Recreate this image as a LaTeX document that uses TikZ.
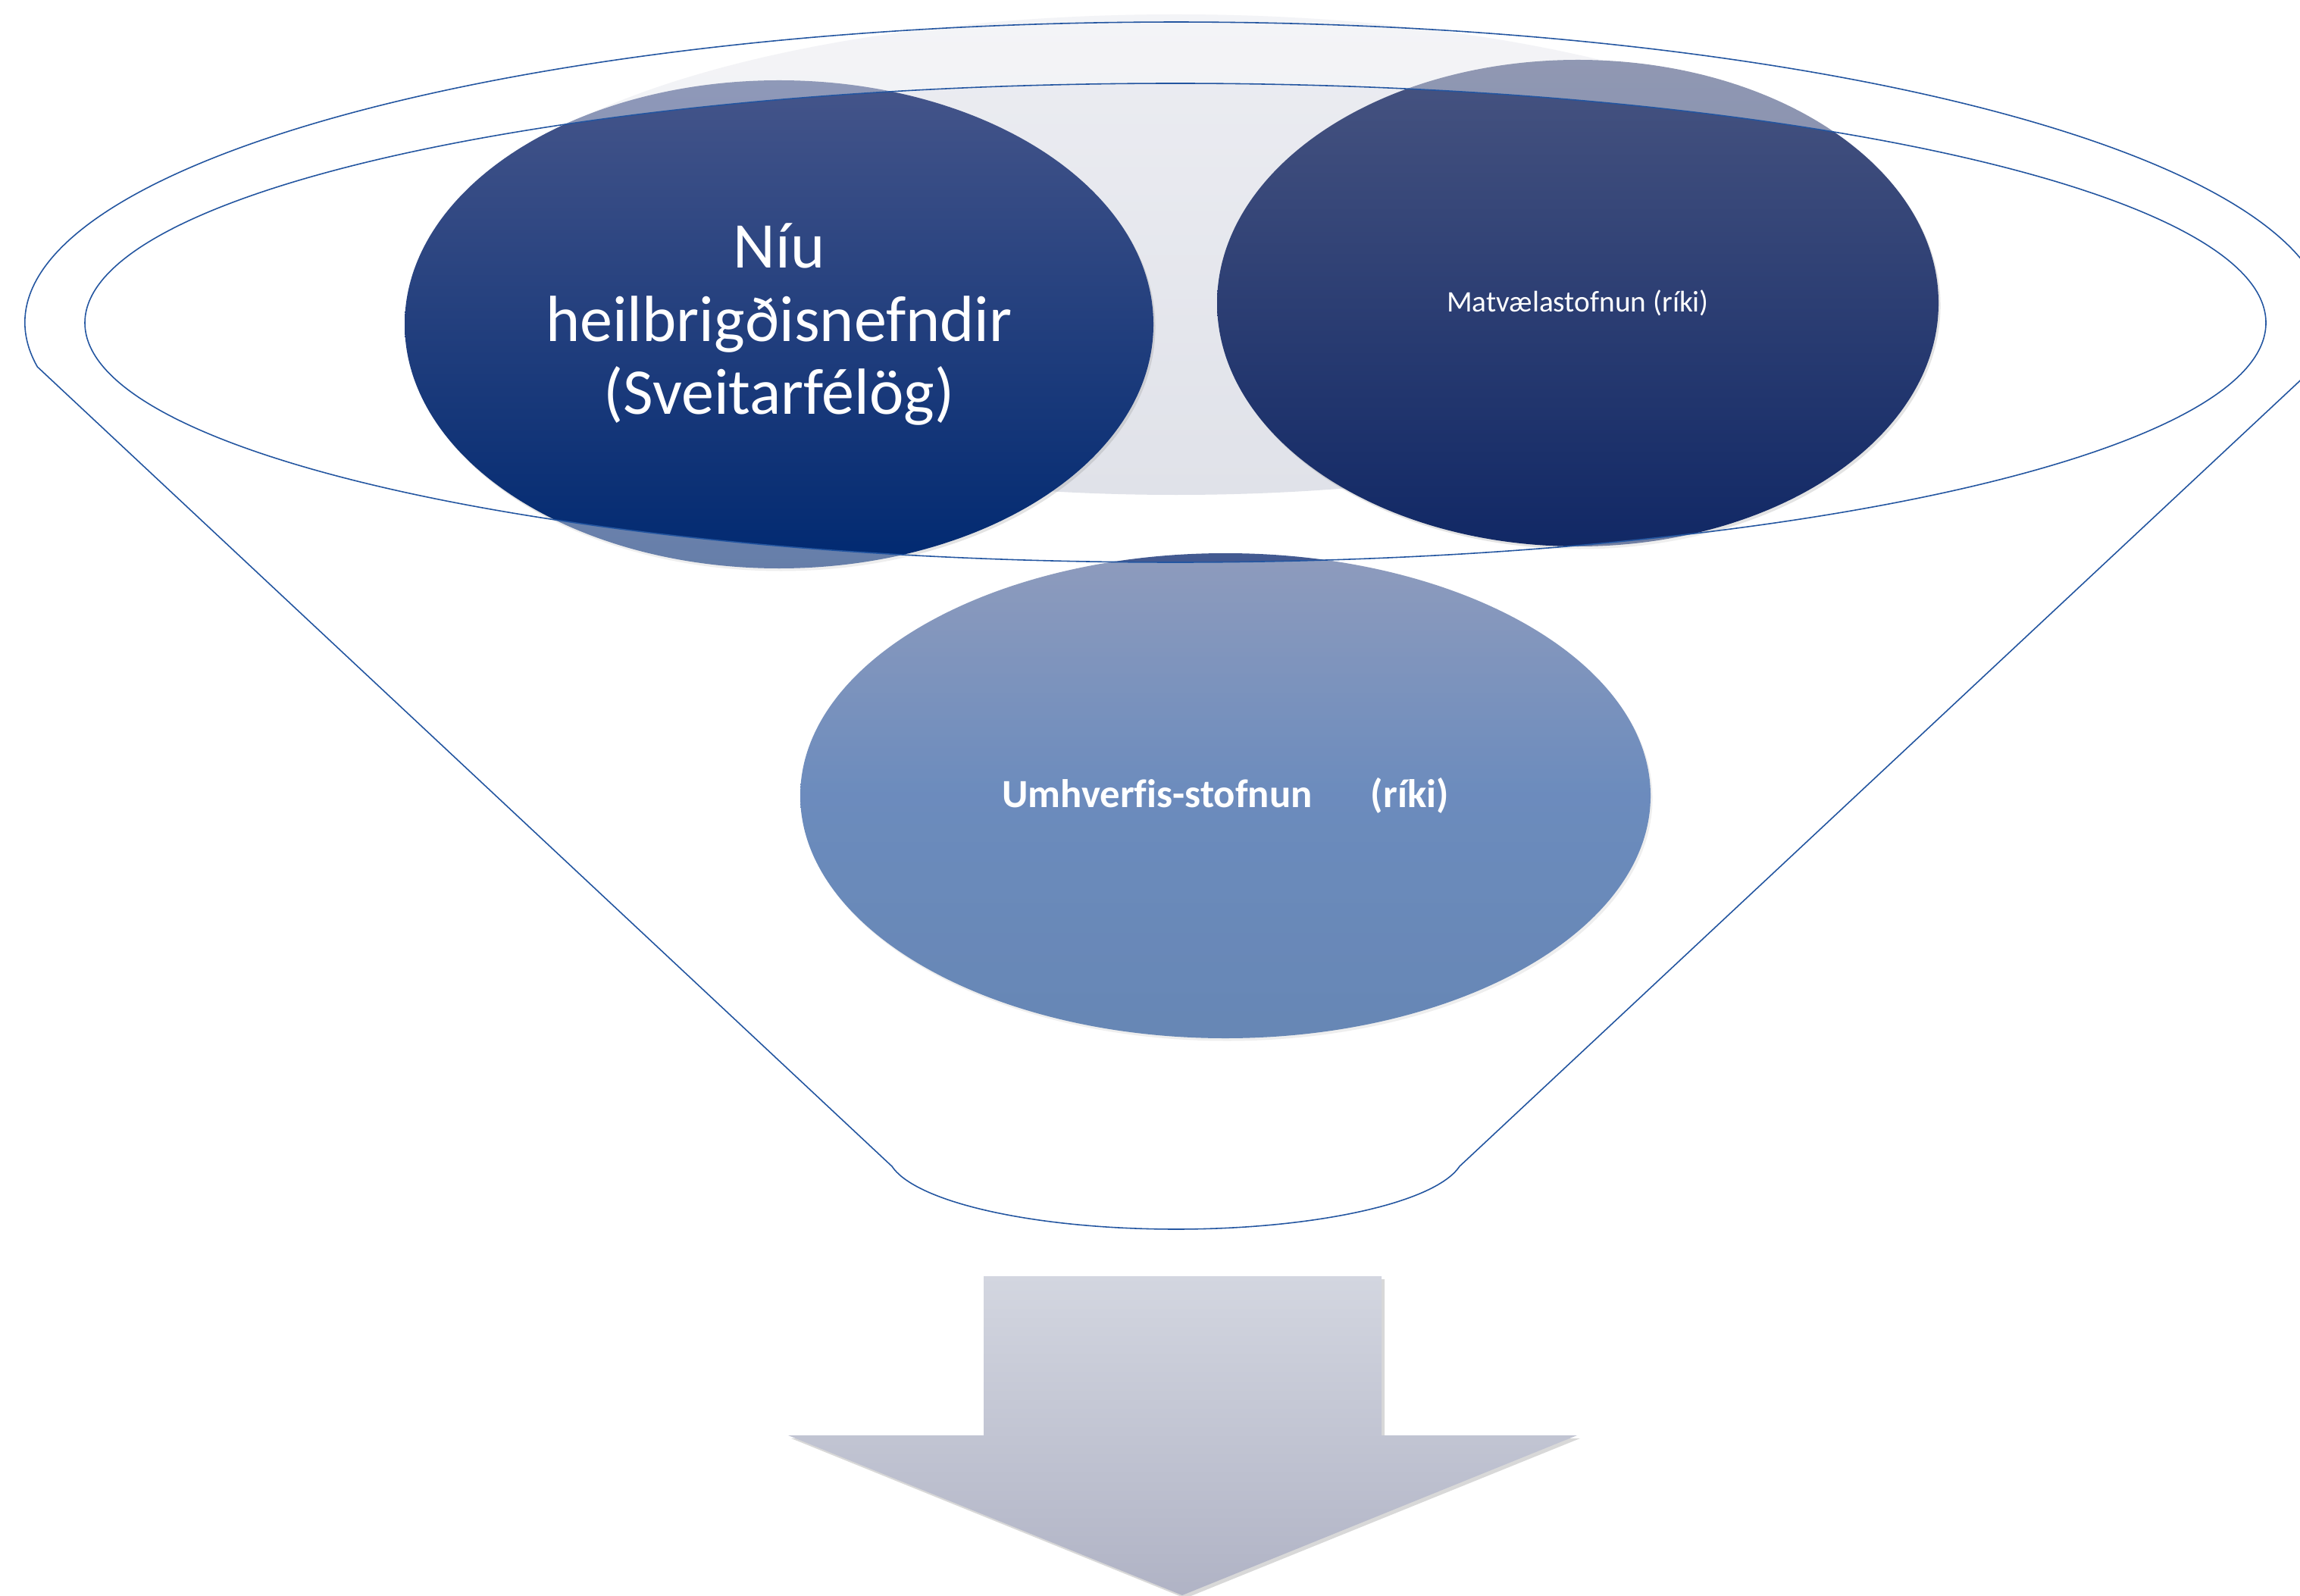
\documentclass[tikz,border=0pt]{standalone}
\usepackage{fontspec}
\setmainfont{Carlito}[Ligatures=NoCommon]
\usetikzlibrary{shapes.geometric,shadows}
\definecolor{rim}{RGB}{35,85,160}
\definecolor{glasstop}{RGB}{236,237,242}
\definecolor{glassbot}{RGB}{224,226,233}
\definecolor{eonetop}{RGB}{69,85,138}
\definecolor{eonebot}{RGB}{0,41,113}
\definecolor{etwotop}{RGB}{71,84,129}
\definecolor{etwobot}{RGB}{17,40,101}
\definecolor{ethreetop}{RGB}{68,90,145}
\definecolor{ethreemid}{RGB}{10,63,145}
\definecolor{ethreebot}{RGB}{2,55,132}
\definecolor{arrtop}{RGB}{211,214,224}
\definecolor{arrbot}{RGB}{176,179,197}
\begin{document}
\begin{tikzpicture}[
  bubble/.style={ellipse, inner sep=0pt, text=white, align=center,
    drop shadow={shadow xshift=0.025cm, shadow yshift=-0.035cm, opacity=0.22}},
  rimline/.style={draw=rim, line width=0.45pt},
]
\useasboundingbox (0,0) rectangle (30.35,-21.05);
\fill[white] (0,0) rectangle (30.35,-21.05);

% glass of the funnel mouth
\shade[top color=glasstop, bottom color=glassbot] (15.52,-3.36) ellipse [x radius=9.55cm, y radius=3.17cm];

% bubbles
\node[bubble, minimum width=9.88cm, minimum height=6.44cm, top color=eonetop, bottom color=eonebot,
  font=\fontsize{24.5}{27.5}\selectfont] (nefndir) at (10.28,-4.28) {Níu\\heilbrigðisnefndir\\(Sveitarfélög)};
\node[bubble, minimum width=9.52cm, minimum height=6.42cm, top color=etwotop, bottom color=etwobot,
  font=\fontsize{11.2}{13.5}\selectfont] (mast) at (20.82,-4.00) {Matvælastofnun (ríki)};
\node[bubble, minimum width=11.22cm, minimum height=6.40cm, top color=ethreetop, bottom color=ethreebot, middle color=ethreemid,
  font=\fontsize{15}{18}\selectfont\bfseries] (ust) at (16.17,-10.50) {Umhverfis-stofnun\hspace{0.77cm}(ríki)};

% fade everything outside the funnel mouth
\fill[white, fill opacity=0.4, even odd rule] (0,0) rectangle (30.35,-21.05)
  (15.51,-4.26) ellipse [x radius=14.39cm, y radius=3.16cm];

% funnel outline
\draw[rimline] (0.493,-4.84) arc[start angle=188.4, end angle=-8.4, x radius=15.19cm, y radius=3.97cm]
  -- (19.26,-15.39) arc[start angle=350, end angle=190, x radius=3.803cm, y radius=1.004cm] -- cycle;
\draw[rimline] (15.51,-4.26) ellipse [x radius=14.39cm, y radius=3.16cm];

% down arrow
\path[top color=arrtop, bottom color=arrbot,
  drop shadow={shadow xshift=0.04cm, shadow yshift=-0.04cm, opacity=0.3}]
  (12.98,-16.84) -- (18.23,-16.84) -- (18.23,-18.94) -- (20.81,-18.94) -- (15.60,-21.05)
  -- (10.40,-18.94) -- (12.98,-18.94) -- cycle;
\end{tikzpicture}
\end{document}
